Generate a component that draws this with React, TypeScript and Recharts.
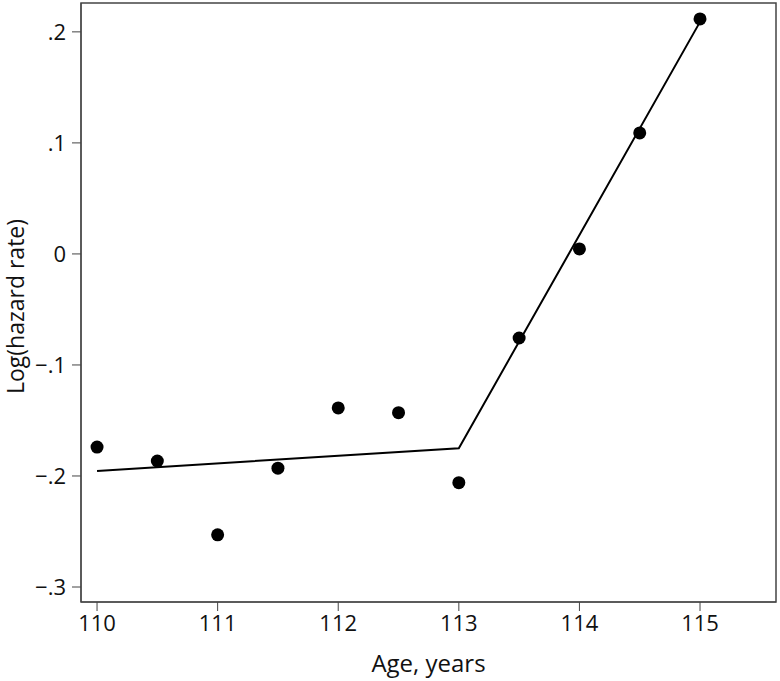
import React from "react";
import { ComposedChart, Scatter, Line, XAxis, YAxis, ReferenceArea, Label } from "recharts";

const ages = [110, 110.5, 111, 111.5, 112, 112.5, 113, 113.5, 114, 114.5, 115];
const logHazard = [-0.174, -0.1865, -0.253, -0.193, -0.1387, -0.143, -0.206, -0.0757, 0.0045, 0.109, 0.2117];

const fitAges = [110, 113, 115];
const fitValues = [-0.1955, -0.175, 0.209];

const xTicks = [110, 111, 112, 113, 114, 115];
const yTicks = [-0.3, -0.2, -0.1, 0, 0.1, 0.2];

const X_DOMAIN: [number, number] = [109.867, 115.63];
const Y_DOMAIN: [number, number] = [-0.3135, 0.226];

const points = ages.map((x, i) => ({ x, y: logHazard[i] }));
const fit = fitAges.map((x, i) => ({ x, y: fitValues[i] }));

const FONT = "'Open Sans', 'DejaVu Sans', sans-serif";

function fmtY(v: number) {
  if (v === 0) return "0";
  const s = Math.abs(v).toFixed(1).replace(/^0/, "");
  return v < 0 ? "\u2212" + s : s;
}

const Dot = (props: any) => {
  const { cx, cy } = props;
  if (cx == null || cy == null) return null;
  return <circle cx={cx} cy={cy} r={6.5} fill="#000" />;
};

export default function App() {
  return (
    <div style={{ position: "absolute", left: 0, top: 0, width: 780, height: 681, background: "#fff", fontFamily: FONT }}>
      <ComposedChart width={780} height={681} margin={{ top: 3, right: 4, bottom: 0, left: 0 }}>
        <XAxis
          type="number"
          dataKey="x"
          domain={X_DOMAIN}
          ticks={xTicks}
          allowDataOverflow
          height={79}
          stroke="#444"
          tickSize={9}
          tickMargin={4}
          tick={{ fontSize: 22, fill: "#111", fontFamily: FONT }}
        >
          <Label value="Age, years" position="insideBottom" offset={9} style={{ fontSize: 24, fill: "#111", fontFamily: FONT }} />
        </XAxis>
        <YAxis
          type="number"
          dataKey="y"
          domain={Y_DOMAIN}
          ticks={yTicks}
          allowDataOverflow
          width={81}
          stroke="#444"
          tickSize={9}
          tickMargin={6}
          tickFormatter={fmtY}
          tick={{ fontSize: 22, fill: "#111", fontFamily: FONT }}
        >
          <Label value="Log(hazard rate)" angle={-90} position="insideLeft" offset={16} dy={4} style={{ fontSize: 23, fill: "#111", fontFamily: FONT, textAnchor: "middle" }} />
        </YAxis>
        <ReferenceArea x1={X_DOMAIN[0]} x2={X_DOMAIN[1]} y1={Y_DOMAIN[0]} y2={Y_DOMAIN[1]} fill="none" stroke="#444" strokeWidth={1.5} fillOpacity={0} />
        <Line data={fit} dataKey="y" type="linear" stroke="#000" strokeWidth={2} dot={false} activeDot={false} isAnimationActive={false} />
        <Scatter data={points} dataKey="y" shape={<Dot />} isAnimationActive={false} />
      </ComposedChart>
    </div>
  );
}
